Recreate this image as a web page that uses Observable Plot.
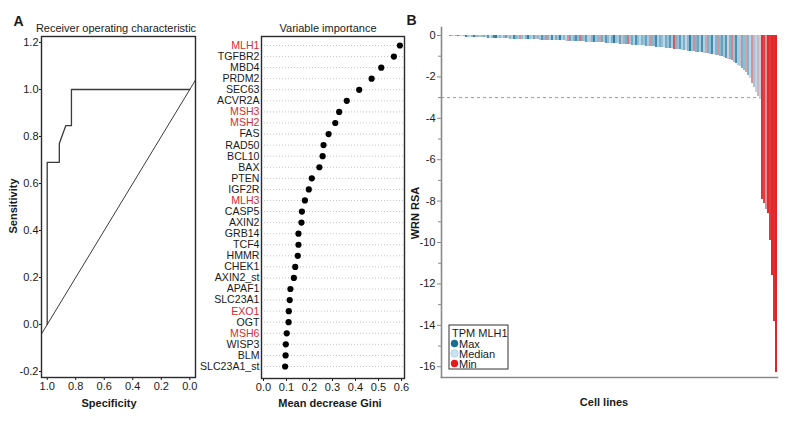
<!DOCTYPE html>
<html><head><meta charset="utf-8">
<script src="https://cdn.jsdelivr.net/npm/d3@7"></script>
<script src="https://cdn.jsdelivr.net/npm/@observablehq/plot@0.6"></script>
<style>
body{margin:0;background:#fff;font-family:"Liberation Sans",Arial,sans-serif;}
#root{position:relative;width:790px;height:433px;overflow:hidden;background:#fff;}
</style></head><body><div id="root"></div>
<script>
// ---------- Panel A (left): ROC ----------
const rocSpecificity = [1, 1, 0.915, 0.915, 0.87, 0.83, 0.83, 0];
const rocSensitivity = [0, 0.69, 0.69, 0.77, 0.846, 0.846, 1, 1];
const rocXTicks = [1, 0.8, 0.6, 0.4, 0.2, 0];
const rocYTicks = [-0.2, 0, 0.2, 0.4, 0.6, 0.8, 1.0, 1.2];

// ---------- Panel A (right): Variable importance ----------
const genes = ["MLH1","TGFBR2","MBD4","PRDM2","SEC63","ACVR2A","MSH3","MSH2","FAS","RAD50","BCL10","BAX","PTEN","IGF2R","MLH3","CASP5","AXIN2","GRB14","TCF4","HMMR","CHEK1","AXIN2_st","APAF1","SLC23A1","EXO1","OGT","MSH6","WISP3","BLM","SLC23A1_st"];
const gini = [0.593,0.567,0.512,0.470,0.416,0.362,0.329,0.312,0.283,0.261,0.257,0.243,0.210,0.197,0.180,0.167,0.165,0.152,0.152,0.149,0.138,0.132,0.117,0.114,0.110,0.109,0.101,0.097,0.096,0.094];
const mmrGenes = ["MLH1","MSH3","MSH2","MLH3","EXO1","MSH6"];
const giniTicks = [0, 0.1, 0.2, 0.3, 0.4, 0.5, 0.6];

// ---------- Panel B: WRN RSA per cell line ----------
const wrnRsa = [
  0,-0.01,-0.02,-0.03,-0.04,
  -0.05,-0.05,-0.06,-0.06,-0.07,-0.07,-0.08,-0.08,-0.09,-0.09,-0.1,-0.1,-0.11,-0.11,
  -0.12,-0.12,-0.12,-0.13,-0.13,-0.13,-0.14,-0.14,-0.14,-0.15,
  -0.15,-0.16,-0.16,-0.16,-0.17,-0.17,-0.17,-0.18,-0.18,-0.18,-0.19,-0.19,-0.19,-0.2,-0.2,-0.2,-0.21,-0.21,-0.21,-0.22,-0.22,-0.22,-0.23,-0.23,-0.23,-0.24,-0.24,-0.24,-0.25,-0.25,
  -0.26,-0.26,-0.27,-0.27,-0.28,-0.28,-0.29,-0.29,-0.3,-0.3,-0.31,-0.31,-0.32,-0.32,-0.33,-0.33,-0.34,-0.34,-0.35,-0.35,
  -0.36,-0.36,-0.37,-0.38,-0.38,-0.39,-0.4,-0.4,-0.41,-0.42,-0.42,-0.43,-0.44,-0.44,-0.45,-0.46,-0.46,-0.47,-0.48,-0.48,
  -0.49,-0.5,-0.51,-0.52,-0.53,-0.54,-0.55,-0.56,-0.57,-0.58,
  -0.59,-0.6,-0.61,-0.63,-0.64,-0.65,-0.66,-0.67,-0.69,-0.7,
  -0.71,-0.72,-0.74,-0.75,-0.76,-0.77,-0.78,-0.8,-0.81,-0.82,
  -0.84,-0.85,-0.87,-0.89,-0.9,-0.92,-0.94,-0.96,-0.98,-1.0,
  -1.03,-1.06,-1.1,-1.14,-1.18,-1.23,-1.3,
  -1.37,-1.44,-1.52,-1.6,-1.7,
  -1.8,-1.95,-2.1,-2.3,-2.5,-2.75,-2.95,
  -3.1,-7.9,-8.1,-8.4,-8.6,-9.9,-11.6,-13.8,-16.3
];
// MLH1 expression (0 = min, 50 = median, 100 = max)
const tpmMlh1 = [
  60,68,55,80,62,50,66,88,58,55,
  70,90,62,55,66,92,68,35,60,66,
  72,58,86,52,64,90,95,58,68,55,
  66,78,40,68,58,88,70,62,30,66,
  55,70,92,64,58,76,38,68,60,84,
  66,28,70,58,88,45,72,64,92,58,
  68,55,30,76,60,70,86,66,22,72,
  64,80,58,42,70,90,62,68,34,74,
  60,82,66,55,72,94,64,60,78,40,
  68,72,22,64,74,58,86,66,55,70,
  64,78,60,30,70,68,88,58,72,66,
  55,74,64,82,60,15,70,66,80,58,
  72,45,68,92,64,28,70,76,60,86,
  58,34,72,66,88,55,70,30,68,78,
  62,82,45,70,26,64,86,60,40,72,
  66,34,70,55,30,62,45,38,44,6,
  10,30,4,8,3,5,2
];
const rsaMajorTicks = [0,-2,-4,-6,-8,-10,-12,-14,-16];
const rsaMinorTicks = [-1,-3,-5,-7,-9,-11,-13,-15];
const legendLabels = ["Max","Median","Min"];
const legendColors = ["#1b6d92","#c8e4f2","#e41a1c"];

const FONT = '"Liberation Sans", Arial, sans-serif';
const root = document.getElementById("root");
const baseStyle = {fontFamily: FONT, fontSize: "11px", color: "#1a1a1a", background: "transparent", overflow: "visible"};

function place(svg, left) {
  svg.style.position = "absolute";
  svg.style.left = left + "px";
  svg.style.top = "0px";
  svg.style.maxWidth = "none";
  root.appendChild(svg);
}

// ROC
const rocData = rocSpecificity.map((s, i) => ({spec: s, sens: rocSensitivity[i]}));
const rocPlot = Plot.plot({
  width: 200, height: 433,
  marginLeft: 41, marginRight: 5, marginTop: 36, marginBottom: 56,
  style: baseStyle,
  x: {domain: [1.04, -0.04]},
  y: {domain: [-0.2255, 1.2255]},
  marks: [
    Plot.axisX({ticks: rocXTicks, tickFormat: d => d.toFixed(1), tickSize: 3, tickPadding: 2, label: null}),
    Plot.axisY({ticks: rocYTicks, tickFormat: d => d.toFixed(1), tickSize: 2, tickPadding: 1, label: null}),
    Plot.line([-1, 2], {x: d => d, y: d => 1 - d, clip: true, stroke: "#3a3a3a", strokeWidth: 1}),
    Plot.line(rocData, {x: "spec", y: "sens", stroke: "#3a3a3a", strokeWidth: 1.3}),
    Plot.frame({stroke: "#2a2a2a", strokeWidth: 1.4})
  ]
});
place(rocPlot, 0);

// Variable importance
const viData = genes.map((g, i) => ({gene: g, gini: gini[i]}));
const viPlot = Plot.plot({
  width: 220, height: 433,
  marginLeft: 71, marginRight: 6, marginTop: 36, marginBottom: 55,
  style: baseStyle,
  x: {domain: [-0.0087, 0.613]},
  y: {type: "point", domain: genes, range: [45, 366], padding: 0, round: false, axis: null},
  marks: [
    Plot.ruleY(genes, {y: d => d, stroke: "#c4c4c4", strokeDasharray: "1,2"}),
    Plot.dot(viData, {x: "gini", y: "gene", r: 3.1, fill: "#000", stroke: "none"}),
    Plot.text(genes, {filter: d => !mmrGenes.includes(d), y: d => d, text: d => d, frameAnchor: "left", textAnchor: "end", dx: -2, fill: "#1a1a1a", fontSize: 10.6}),
    Plot.text(genes, {filter: d => mmrGenes.includes(d), y: d => d, text: d => d, frameAnchor: "left", textAnchor: "end", dx: -2, fill: "#cf2f2f", fontSize: 10.6}),
    Plot.axisX({ticks: giniTicks, tickFormat: d => d.toFixed(1), tickSize: 3, tickPadding: 2, label: null}),
    Plot.frame({stroke: "#2a2a2a", strokeWidth: 1.4})
  ]
});
place(viPlot, 190);

// Panel B
const cells = wrnRsa.map((v, i) => ({i, v, tpm: tpmMlh1[i] ?? 50}));
const bPlot = Plot.plot({
  width: 385, height: 433,
  marginLeft: 36, marginRight: 13, marginTop: 27, marginBottom: 56,
  style: baseStyle,
  x: {type: "band", domain: cells.map(d => d.i), range: [38, 372], padding: 0, round: false, axis: null},
  y: {domain: [-16.52, 0.386]},
  color: {type: "linear", domain: [0, 50, 100], range: [legendColors[2], legendColors[1], legendColors[0]]},
  marks: [
    Plot.ruleY([-3], {stroke: "#9a9a9a", strokeDasharray: "3,3", strokeWidth: 1}),
    Plot.barY(cells, {x: "i", y: "v", fill: "tpm", shapeRendering: "crispEdges"}),
    Plot.frame({anchor: "left", stroke: "#8a8a8a", strokeWidth: 1.6}),
    Plot.frame({anchor: "bottom", stroke: "#8a8a8a", strokeWidth: 1.6}),
    Plot.axisY({ticks: rsaMajorTicks, tickFormat: d => String(d), tickSize: 4, tickPadding: 2, stroke: "#8a8a8a", label: null}),
    Plot.axisY({ticks: rsaMinorTicks, tickFormat: () => "", tickSize: 3, stroke: "#8a8a8a", label: null})
  ]
});
place(bPlot, 405);

// Text labels
function addText(txt, x, y, opts = {}) {
  const d = document.createElement("div");
  d.textContent = txt;
  d.style.cssText = `position:absolute;left:${x}px;top:${y}px;white-space:nowrap;line-height:1;` +
    `font-family:${FONT};font-size:${opts.size || 11}px;font-weight:${opts.bold ? "bold" : "normal"};color:#1a1a1a;` +
    `transform:translate(-50%,-50%)${opts.rotate ? " rotate(-90deg)" : ""};`;
  root.appendChild(d);
}
addText("A", 18.5, 21, {bold: true, size: 14});
addText("B", 411.5, 20, {bold: true, size: 14});
addText("Receiver operating characteristic", 116, 28);
addText("Variable importance", 328, 28);
addText("Sensitivity", 13, 206, {bold: true, rotate: true});
addText("Specificity", 109, 403, {bold: true});
addText("Mean decrease Gini", 330, 403, {bold: true});
addText("WRN RSA", 415, 213, {bold: true, rotate: true});
addText("Cell lines", 604, 402, {bold: true});

// Legend
const leg = d3.select(root).append("svg")
  .attr("width", 62).attr("height", 47)
  .style("position", "absolute").style("left", "448px").style("top", "324px")
  .style("font-family", FONT).style("font-size", "11px");
leg.append("rect").attr("x", 1).attr("y", 1).attr("width", 59).attr("height", 44)
  .attr("fill", "#fff").attr("stroke", "#333").attr("stroke-width", 1);
leg.append("text").attr("x", 4).attr("y", 8.5).attr("dominant-baseline", "central").attr("fill", "#1a1a1a").text("TPM MLH1");
legendLabels.forEach((lab, k) => {
  const cy = 19.5 + k * 10;
  leg.append("circle").attr("cx", 6.5).attr("cy", cy).attr("r", 3.7)
    .attr("fill", legendColors[k]).attr("stroke", k === 1 ? "#9cc4d8" : "none").attr("stroke-width", 0.6);
  leg.append("text").attr("x", 11).attr("y", cy).attr("dominant-baseline", "central").attr("fill", "#1a1a1a").text(lab);
});
</script>
</body></html>
